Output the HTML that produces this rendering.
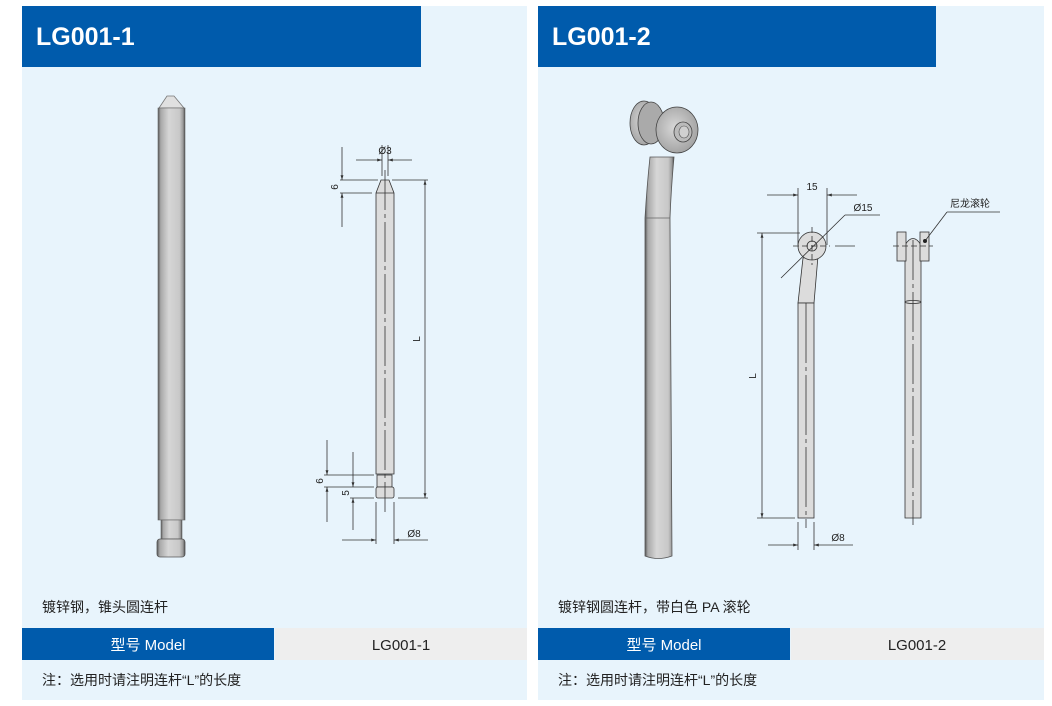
<!DOCTYPE html>
<html><head><meta charset="utf-8"><style>
body{margin:0;width:1052px;height:706px;background:#fff;overflow:hidden;font-family:"Liberation Sans","Noto Sans CJK SC",sans-serif}
</style></head><body>
<svg width="1052" height="706" viewBox="0 0 1052 706" xmlns="http://www.w3.org/2000/svg" style="position:absolute;left:0;top:0">
<defs>
<linearGradient id="rg" x1="0" x2="1" y1="0" y2="0">
<stop offset="0" stop-color="#555"/><stop offset="0.1" stop-color="#a8a8a8"/><stop offset="0.4" stop-color="#d6d6d6"/><stop offset="0.8" stop-color="#c8c8c8"/><stop offset="0.93" stop-color="#999"/><stop offset="1" stop-color="#444"/>
</linearGradient>
<radialGradient id="wg" cx="0.45" cy="0.45" r="0.6"><stop offset="0" stop-color="#d8d8d8"/><stop offset="1" stop-color="#a0a0a0"/></radialGradient>
<marker id="a" viewBox="0 0 10 10" refX="10" refY="5" markerWidth="6" markerHeight="6" orient="auto-start-reverse"><path d="M0,2 L10,5 L0,8z" fill="#333"/></marker>
</defs>
<rect x="22" y="6" width="505" height="694" fill="#e8f4fc"/>
<rect x="538" y="6" width="506" height="694" fill="#e8f4fc"/>
<rect x="22" y="6" width="399" height="61" fill="#005bac"/>
<rect x="538" y="6" width="398" height="61" fill="#005bac"/>
<text x="36" y="45" fill="#fff" font-size="25" font-weight="bold">LG001-1</text>
<text x="552" y="45" fill="#fff" font-size="25" font-weight="bold">LG001-2</text>

<rect x="22" y="628" width="252" height="32" fill="#005bac"/>
<rect x="275" y="628" width="252" height="32" fill="#eeeeee"/>
<rect x="538" y="628" width="252" height="32" fill="#005bac"/>
<rect x="791" y="628" width="253" height="32" fill="#eeeeee"/>
<g font-size="15" text-anchor="middle">
<text x="148" y="650" fill="#fff">型号 Model</text>
<text x="401" y="650" fill="#222">LG001-1</text>
<text x="664" y="650" fill="#fff">型号 Model</text>
<text x="917" y="650" fill="#222">LG001-2</text>
</g>
<g font-size="14" fill="#222">
<text x="42" y="612">镀锌钢，锥头圆连杆</text>
<text x="558" y="612">镀锌钢圆连杆，带白色 PA 滚轮</text>
<text x="42" y="685">注：选用时请注明连杆“L”的长度</text>
<text x="558" y="685">注：选用时请注明连杆“L”的长度</text>
</g>

<path d="M167,96 L174,96 L184,108 L159,108 Z" fill="#e0e0e0" stroke="#777" stroke-width="0.8"/>
<rect x="158" y="108" width="27" height="412" fill="url(#rg)" stroke="#666" stroke-width="0.6"/>
<rect x="161" y="520" width="21" height="19" fill="url(#rg)" stroke="#666" stroke-width="0.6"/>
<rect x="157" y="539" width="28" height="18" rx="3" fill="url(#rg)" stroke="#555" stroke-width="0.8"/>

<g stroke="#333" stroke-width="0.8" fill="none">
<path d="M381,180 L389,180 L394,193 L394,474 L376,474 L376,193 Z" fill="#dcdcdc"/>
<line x1="376" y1="193" x2="394" y2="193"/>
<rect x="377" y="475" width="15" height="12" fill="#dcdcdc"/>
<rect x="376" y="487" width="18" height="11" rx="2" fill="#dcdcdc"/>
<line x1="385" y1="170" x2="385" y2="512" stroke-dasharray="40,4,4,4"/>
<line x1="382" y1="145" x2="382" y2="176"/><line x1="388" y1="145" x2="388" y2="176"/>
<line x1="356" y1="160" x2="382" y2="160" marker-end="url(#a)"/>
<line x1="412" y1="160" x2="388" y2="160" marker-end="url(#a)"/>
<line x1="340" y1="180" x2="378" y2="180"/><line x1="340" y1="193" x2="372" y2="193"/>
<line x1="342" y1="147" x2="342" y2="180" marker-end="url(#a)"/>
<line x1="342" y1="227" x2="342" y2="193" marker-end="url(#a)"/>
<line x1="392" y1="180" x2="428" y2="180"/><line x1="398" y1="498" x2="428" y2="498"/>
<line x1="425" y1="180" x2="425" y2="498" marker-start="url(#a)" marker-end="url(#a)"/>
<line x1="324" y1="475" x2="374" y2="475"/><line x1="324" y1="487" x2="374" y2="487"/>
<line x1="350" y1="498" x2="374" y2="498"/>
<line x1="327" y1="440" x2="327" y2="475" marker-end="url(#a)"/>
<line x1="327" y1="522" x2="327" y2="487" marker-end="url(#a)"/>
<line x1="353" y1="452" x2="353" y2="487" marker-end="url(#a)"/>
<line x1="353" y1="530" x2="353" y2="498" marker-end="url(#a)"/>
<line x1="376" y1="502" x2="376" y2="544"/><line x1="394" y1="502" x2="394" y2="544"/>
<line x1="342" y1="540" x2="376" y2="540" marker-end="url(#a)"/>
<line x1="428" y1="540" x2="394" y2="540" marker-end="url(#a)"/>
</g>
<g font-size="10" fill="#222" text-anchor="middle">
<text x="385" y="154">Ø3</text>
<text x="414" y="537">Ø8</text>
<text transform="translate(338,187) rotate(-90)">6</text>
<text transform="translate(323,481) rotate(-90)">6</text>
<text transform="translate(349,493) rotate(-90)">5</text>
<text transform="translate(420,339) rotate(-90)">L</text>
</g>

<path d="M645,556 L645,218 Q647,185 650,157 L674,157 Q671,190 670,218 L672,556 Q658,561 645,556 Z" fill="url(#rg)" stroke="#555" stroke-width="0.8"/>
<line x1="645" y1="218" x2="670" y2="218" stroke="#666" stroke-width="0.8"/>
<ellipse cx="644" cy="123" rx="14" ry="22" fill="url(#wg)" stroke="#444" stroke-width="0.8"/>
<ellipse cx="651" cy="123" rx="13" ry="21" fill="#aaa" stroke="#444" stroke-width="0.8"/>
<ellipse cx="677" cy="130" rx="21" ry="23" fill="url(#wg)" stroke="#444" stroke-width="0.8"/>
<ellipse cx="683" cy="132" rx="9" ry="10" fill="#bbb" stroke="#444" stroke-width="0.8"/>
<ellipse cx="684" cy="132" rx="5" ry="6" fill="#d0d0d0" stroke="#555" stroke-width="0.6"/>

<g stroke="#333" stroke-width="0.8" fill="none">
<path d="M798,303 L803,258 L818,256 L814,303 Z" fill="#dcdcdc"/>
<rect x="798" y="303" width="16" height="215" fill="#dcdcdc"/>
<circle cx="812" cy="246" r="14" fill="#dcdcdc"/>
<circle cx="812" cy="246" r="5"/>
<line x1="793" y1="246" x2="830" y2="246" stroke-dasharray="6,3"/><line x1="835" y1="246" x2="855" y2="246"/>
<line x1="812" y1="227" x2="812" y2="265" stroke-dasharray="6,3"/>
<line x1="806" y1="303" x2="806" y2="528" stroke-dasharray="60,4,4,4"/>
<line x1="798" y1="188" x2="798" y2="245"/><line x1="827" y1="188" x2="827" y2="245"/>
<line x1="767" y1="195" x2="798" y2="195" marker-end="url(#a)"/>
<line x1="857" y1="195" x2="827" y2="195" marker-end="url(#a)"/>
<line x1="781" y1="278" x2="845" y2="215"/><line x1="845" y1="215" x2="880" y2="215"/>
<line x1="757" y1="233" x2="800" y2="233"/><line x1="757" y1="518" x2="795" y2="518"/>
<line x1="762" y1="233" x2="762" y2="518" marker-start="url(#a)" marker-end="url(#a)"/>
<line x1="798" y1="522" x2="798" y2="550"/><line x1="814" y1="522" x2="814" y2="550"/>
<line x1="768" y1="545" x2="798" y2="545" marker-end="url(#a)"/>
<line x1="853" y1="545" x2="814" y2="545" marker-end="url(#a)"/>
<path d="M905,518 L905,245 Q913,232 921,245 L921,518 Z" fill="#dcdcdc"/>
<rect x="897" y="232" width="9" height="29" fill="#dcdcdc"/>
<rect x="920" y="232" width="9" height="29" fill="#dcdcdc"/>
<line x1="893" y1="246" x2="933" y2="246" stroke-dasharray="6,3"/>
<ellipse cx="913" cy="302" rx="8" ry="1.5"/>
<line x1="913" y1="240" x2="913" y2="525" stroke-dasharray="40,4,4,4"/>
<line x1="925" y1="241" x2="947" y2="212"/><line x1="947" y1="212" x2="1000" y2="212"/>
</g>
<circle cx="925" cy="241" r="2" fill="#222"/>
<g font-size="10" fill="#222" text-anchor="middle">
<text x="812" y="190">15</text>
<text x="863" y="211">Ø15</text>
<text x="838" y="541">Ø8</text>
<text x="970" y="207">尼龙滚轮</text>
<text transform="translate(756,376) rotate(-90)">L</text>
</g>
</svg>
</body></html>
